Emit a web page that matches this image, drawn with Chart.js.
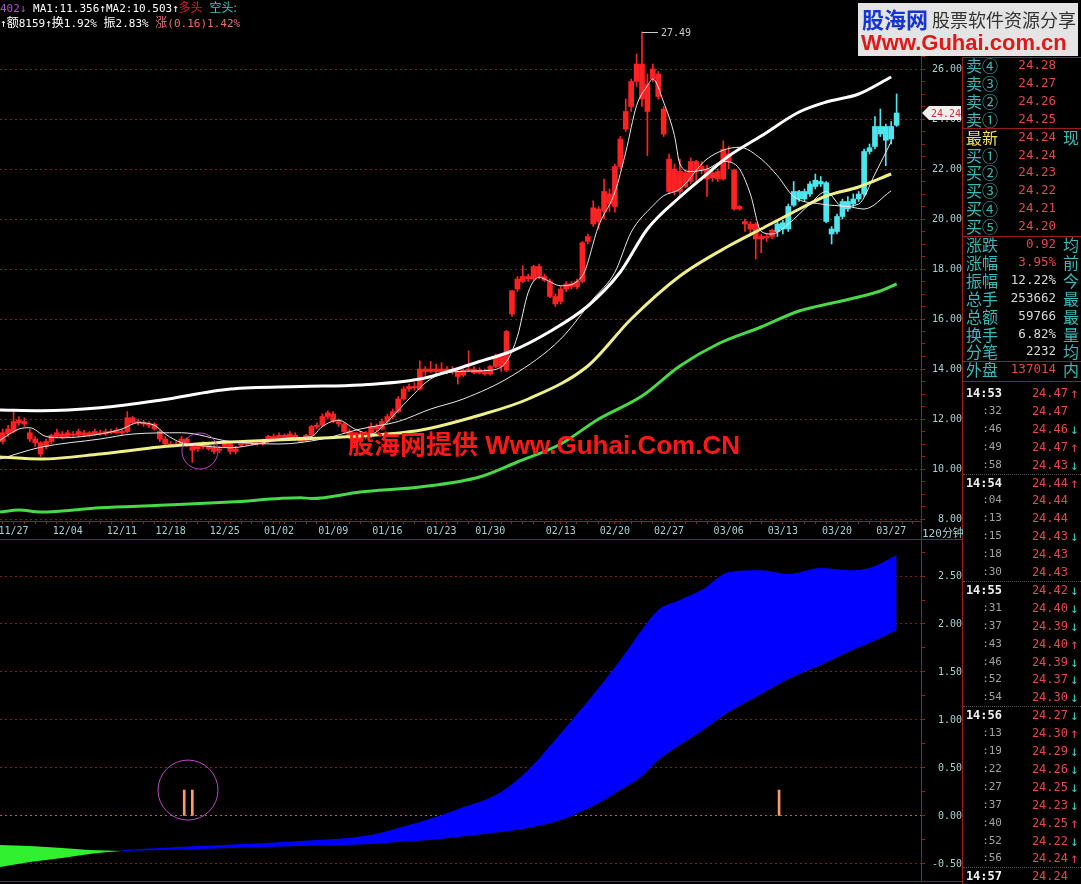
<!DOCTYPE html>
<html>
<head>
<meta charset="utf-8">
<script src="https://cdn.jsdelivr.net/npm/chart.js@4.4.1/dist/chart.umd.min.js"></script>
<style>
  body { margin: 0; background: #000; width: 1081px; height: 884px; overflow: hidden; position: relative; font-family: "DejaVu Sans Mono", monospace; }
  canvas { position: absolute; left: 0; }
  #main { top: 0; }
  #sub { top: 541px; }
  .abs { position: absolute; white-space: nowrap; }
  .hl { position: absolute; height: 0; border-top: 1px solid #9a1c1c; }
  .vl { position: absolute; width: 0; border-left: 1px solid #9a1c1c; }
  .cjk { font-family: "Noto Sans CJK SC", sans-serif; }
</style>
</head>
<body>
<canvas id="main" width="962" height="541"></canvas>
<canvas id="sub" width="962" height="343"></canvas>

<div class="hl" style="left:0;top:539px;width:962px"></div>
<div class="vl" style="left:921px;top:521px;height:24px"></div>
<div class="vl" style="left:962px;top:57px;height:827px"></div>
<div class="hl" style="left:0;top:881px;width:962px"></div>
<div class="abs" style="left:922px;top:524px;font-size:11px;color:#a8d0d0">120<span class="cjk">分钟</span></div>

<!-- header -->
<div class="abs" style="left:0;top:0;font-size:11px;line-height:13px;color:#fff">
  <span style="color:#b050c8">402↓</span> MA1:11.356↑MA2:10.503↑<span class="cjk" style="color:#e02020;font-size:12px">多头</span> <span class="cjk" style="color:#40c8c8;font-size:12px">空头:</span><br>
  ↑<span class="cjk" style="font-size:12px">额</span>8159↑<span class="cjk" style="font-size:12px">换</span>1.92% <span class="cjk" style="font-size:12px">振</span>2.83% <span style="color:#e87070"><span class="cjk" style="font-size:12px">涨</span>(0.16)1.42%</span>
</div>

<!-- watermark -->
<div class="abs" style="left:348px;top:428px;font:bold 26px 'Liberation Sans',sans-serif;line-height:30px;color:#ff1818"><span class="cjk" style="font-size:26px">股海网提供</span> Www.Guhai.Com.CN</div>

<!-- logo -->
<div class="abs" style="left:858px;top:3px;width:220px;height:53px;background:#e4e4e4">
  <span class="abs cjk" style="left:4px;top:3px;font-size:22px;font-weight:bold;line-height:24px;color:#1535d0">股海网</span>
  <span class="abs cjk" style="left:74px;top:6px;font-size:18px;line-height:20px;color:#333">股票软件资源分享</span>
  <span class="abs" style="left:3px;top:28px;font:bold 22px 'Liberation Sans',sans-serif;line-height:24px;color:#e01818">Www.Guhai.com.cn</span>
</div>

<div id="rp"></div>

<script>
// ---- price bars (120 min), [open, high, low, close] ----
const ohlc = [
  [11.1,11.6,11.0,11.45],[11.4,11.75,11.3,11.6],[11.5,12.33,11.45,11.9],[11.85,12.1,11.75,11.95],[11.9,12.05,11.7,11.8],
  [11.45,11.6,11.1,11.2],[11.2,11.3,10.9,11.05],[11.05,11.1,10.5,10.6],[10.9,11.2,10.8,11.1],[11.1,11.4,11.0,11.35],
  [11.3,11.6,11.25,11.45],[11.4,11.5,11.2,11.3],[11.3,11.55,11.25,11.45],[11.4,11.5,11.3,11.35],[11.35,11.6,11.3,11.5],
  [11.45,11.55,11.3,11.35],[11.35,11.5,11.3,11.45],[11.4,11.6,11.35,11.5],[11.45,11.55,11.35,11.4],[11.4,11.6,11.35,11.5],
  [11.5,11.6,11.4,11.45],[11.45,11.65,11.4,11.55],[11.5,11.6,11.35,11.45],[11.5,12.3,11.45,12.05],[12.05,12.1,11.8,11.85],
  [11.85,12.0,11.75,11.9],[11.85,11.95,11.7,11.8],[11.8,11.9,11.65,11.75],[11.8,11.85,11.55,11.6],[11.5,11.55,11.1,11.2],
  [11.2,11.3,10.95,11.0],[11.0,11.1,10.9,10.95],[10.95,11.1,10.9,11.0],[11.0,11.3,10.95,11.2],[11.2,11.25,10.9,11.0],
  [10.9,10.95,10.27,10.75],[10.8,11.0,10.7,10.9],[10.9,11.1,10.8,11.0],[10.95,11.05,10.75,10.8],[10.85,10.95,10.6,10.7],
  [10.75,10.9,10.65,10.8],[10.9,11.1,10.85,11.0],[11.0,11.05,10.6,10.7],[10.7,10.9,10.6,10.8],[10.95,11.1,10.9,11.05],
  [11.05,11.15,10.95,11.0],[11.0,11.1,10.95,11.05],[11.05,11.15,10.95,11.0],[11.0,11.2,10.95,11.1],[11.1,11.35,11.05,11.3],
  [11.3,11.4,11.1,11.2],[11.2,11.45,11.15,11.35],[11.35,11.4,11.2,11.25],[11.25,11.5,11.2,11.4],[11.35,11.45,11.15,11.2],
  [11.2,11.25,11.05,11.1],[11.15,11.4,11.1,11.35],[11.35,11.75,11.3,11.7],[11.7,11.85,11.6,11.75],[11.75,12.2,11.7,12.1],
  [12.1,12.33,12.0,12.25],[12.2,12.3,11.85,11.9],[11.9,12.0,11.7,11.8],[11.8,11.85,11.45,11.5],[11.5,11.6,11.2,11.3],
  [11.3,11.4,10.95,11.05],[11.1,11.5,11.0,11.4],[11.4,11.5,11.2,11.3],[11.3,11.85,11.25,11.7],[11.7,11.8,11.5,11.6],
  [11.6,12.0,11.55,11.9],[11.9,12.2,11.8,12.1],[12.1,12.4,12.0,12.3],[12.3,12.9,12.25,12.8],[12.8,13.3,12.75,13.2],
  [13.2,13.4,13.1,13.3],[13.3,13.45,13.15,13.25],[13.2,14.33,13.15,14.0],[14.0,14.1,13.75,13.9],[13.9,14.3,13.85,14.0],
  [14.0,14.2,13.8,13.9],[13.9,14.25,13.85,14.0],[14.0,14.1,13.8,13.9],[13.9,14.1,13.8,13.95],[13.9,13.95,13.4,13.7],
  [13.75,14.0,13.7,13.95],[13.95,14.73,13.9,14.0],[14.0,14.1,13.8,13.85],[13.85,14.05,13.8,13.95],[13.9,14.0,13.75,13.8],
  [13.8,14.15,13.75,14.1],[14.1,14.6,14.05,14.5],[14.5,14.6,13.9,14.1],[13.95,15.55,13.9,15.5],[16.2,17.15,16.1,17.13],
  [17.2,17.7,17.1,17.6],[17.5,18.13,17.45,17.7],[17.7,17.8,17.5,17.6],[17.6,18.15,17.55,18.1],[18.1,18.2,17.6,17.7],
  [17.7,17.8,17.5,17.55],[17.5,17.6,16.85,16.9],[16.9,17.0,16.5,16.6],[16.7,17.3,16.6,17.2],[17.2,17.5,17.1,17.4],
  [17.4,17.5,17.2,17.3],[17.3,17.6,17.2,17.5],[17.5,19.1,17.45,19.05],[19.1,19.4,19.0,19.3],[19.8,20.73,19.7,20.45],
  [20.4,20.5,19.6,19.9],[20.3,21.6,20.0,21.1],[21.0,21.2,20.3,20.6],[20.5,22.2,20.27,22.1],[22.1,23.3,22.0,23.2],
  [23.6,24.8,23.5,24.3],[24.5,25.6,24.3,25.5],[25.5,26.6,25.3,26.2],[26.2,27.49,24.5,24.8],[25.4,25.8,22.53,24.3],
  [25.6,26.2,25.5,26.0],[25.8,25.9,24.8,24.9],[24.4,24.5,23.3,23.4],[22.4,22.6,21.0,21.1],[22.0,22.2,20.95,21.1],
  [21.1,22.4,20.95,21.9],[21.3,21.95,21.25,21.85],[21.5,22.45,21.4,22.3],[22.3,22.35,21.5,21.95],[21.95,22.3,21.8,22.1],
  [22.0,22.15,20.9,21.6],[21.85,22.1,21.5,21.65],[21.6,22.0,21.5,21.9],[21.6,23.13,21.55,22.8],[22.6,22.9,22.0,22.3],
  [21.95,22.0,20.35,20.4],[20.5,20.55,20.35,20.4],[19.9,20.0,19.5,19.8],[19.8,19.9,19.4,19.6],[19.8,19.85,18.4,19.2],
  [19.2,19.4,18.65,19.3],[19.3,19.4,19.1,19.25],[19.3,19.6,19.2,19.55],[19.5,19.9,19.3,19.8],[19.6,19.95,19.4,19.85],
  [19.6,20.6,19.5,20.5],[20.55,21.5,20.5,21.1],[21.1,21.15,20.7,20.8],[20.8,21.2,20.7,21.1],[21.0,21.5,20.9,21.4],
  [21.3,21.8,21.2,21.55],[21.5,21.7,21.3,21.4],[21.45,21.5,19.85,19.9],[19.6,19.7,19.0,19.4],[19.5,20.2,19.4,20.1],
  [20.1,20.8,20.0,20.7],[20.4,20.9,20.3,20.7],[20.6,21.0,20.5,20.8],[20.8,21.1,20.7,21.0],[21.0,22.8,20.9,22.7],
  [22.7,23.0,22.6,22.85],[22.9,24.1,22.8,23.7],[23.7,24.4,23.3,23.4],[23.7,23.8,22.13,23.15],[23.2,23.9,23.0,23.7],
  [23.75,25.0,23.7,24.24]
];
const firstCyan = 143;

// moving-average style lines: [bar index, value]
const maFast = [[-0.5,11.15],[3,11.6],[5,11.65],[8,11.3],[11,11.25],[18,11.4],[22,11.6],[25,11.85],[28,11.75],[30,11.4],[33,11.05],[36,10.95],[42,10.85],[47,11.0],[53,11.25],[57,11.3],[59,11.7],[62,11.95],[65,11.6],[68,11.4],[71,11.9],[75,12.8],[79,13.6],[84,13.9],[90,13.95],[93,14.3],[95,15.3],[97,17.07],[99,17.67],[100,17.6],[103,17.33],[107,17.73],[110,19.73],[113,21.07],[115,22.67],[117,24.53],[119,25.33],[120,25.6],[122,24.67],[124,23.33],[125,22.2],[127,21.9],[130,22.0],[133,22.3],[136,22.0],[138,21.0],[140,19.5],[142,19.4],[145,19.8],[149,20.6],[152,21.1],[155,20.5],[158,20.6],[161,21.8],[164,23.1]];
const maSlow = [[-0.5,10.4],[7,10.87],[18,11.2],[24,11.4],[33,11.45],[42,11.1],[51,11.0],[59,11.2],[66,11.6],[73,11.9],[79,12.4],[85,12.8],[94,13.73],[103,15.2],[109,16.8],[113,17.87],[116,19.47],[120,20.53],[122,20.93],[125,21.2],[130,22.4],[136,22.87],[140,22.4],[143,21.73],[146,20.9],[151,20.6],[156,20.5],[159,20.4],[164,21.13]];
const bandUpper = [[-0.5,12.36],[7,12.33],[18,12.45],[29,12.75],[42,13.2],[55,13.3],[66,13.36],[77,13.6],[83,13.95],[88,14.3],[94,14.72],[101,15.5],[108,16.52],[114,17.88],[119,19.6],[125,20.88],[130,21.8],[134,22.52],[140,23.32],[147,24.28],[152,24.68],[158,25.0],[164,25.68]];
const bandMid = [[-0.5,10.48],[7,10.4],[18,10.6],[29,10.88],[42,11.08],[55,11.2],[66,11.32],[77,11.55],[88,12.15],[97,12.8],[108,14.12],[116,16.0],[125,17.72],[134,18.92],[140,19.6],[146,20.28],[152,20.92],[158,21.28],[164,21.8]];
const bandLower = [[-0.5,8.28],[3,8.36],[7,8.28],[18,8.45],[29,8.55],[42,8.68],[55,8.85],[57,8.82],[66,9.08],[77,9.28],[88,9.68],[95,10.28],[103,11.0],[110,12.0],[118,12.92],[125,14.12],[132,15.0],[140,15.68],[147,16.32],[154,16.68],[162,17.12],[165,17.4]];

// x axis dates (bar index where each label sits)
const dateIdx = [2,12,22,31,41,51,61,71,81,90,103,113,123,134,144,154,164];
const dateText = ['11/27','12/04','12/11','12/18','12/25','01/02','01/09','01/16','01/23','01/30','02/13','02/20','02/27','03/06','03/13','03/20','03/27'];

// lower indicator
const greenIdx = [-0.5,5,11,16,22];
const greenTop = [-0.302,-0.313,-0.333,-0.354,-0.365];
const greenBottom = [-0.531,-0.479,-0.438,-0.396,-0.365];
const blueIdx = [22,36,55,68,73,79,84,92,97,103,110,114,118,121,125,129,134,140,145,151,156,160,165];
const blueTop = [-0.354,-0.313,-0.26,-0.198,-0.125,-0.03,0.07,0.25,0.48,0.86,1.333,1.625,1.938,2.146,2.25,2.354,2.54,2.56,2.52,2.583,2.56,2.583,2.72];
const blueBottom = [-0.365,-0.344,-0.313,-0.292,-0.271,-0.25,-0.219,-0.167,-0.125,-0.042,0.135,0.271,0.417,0.583,0.74,0.885,1.083,1.271,1.427,1.573,1.708,1.802,1.938];
const stickIdx = [33.5,35,143.3];
const stickTop = [0.27,0.27,0.27];

// hand-drawn circles on the screenshot
const mainCircle = {x: 36.4, y: 10.72, r: 18};
const subCircle = {x: 34.2, y: 0.27, r: 30};

// quote panel
const quoteLabels = ['卖④','卖③','卖②','卖①','最新','买①','买②','买③','买④','买⑤','涨跌','涨幅','振幅','总手','总额','换手','分笔','外盘'];
const quoteValues = ['24.28','24.27','24.26','24.25','24.24','24.24','24.23','24.22','24.21','24.20','0.92','3.95%','12.22%','253662','59766','6.82%','2232','137014'];
const quoteRed = [1,1,1,1,1,1,1,1,1,1,1,1,0,0,0,0,0,1];
const quoteTail = ['','','','','现','','','','','','均','前','今','最','最','量','均','内'];
const tickTimes = ['14:53',':32',':46',':49',':58','14:54',':04',':13',':15',':18',':30','14:55',':31',':37',':43',':46',':52',':54','14:56',':13',':19',':22',':27',':37',':40',':52',':56','14:57'];
const tickPrices = ['24.47','24.47','24.46','24.47','24.43','24.44','24.44','24.44','24.43','24.43','24.43','24.42','24.40','24.39','24.40','24.39','24.37','24.30','24.27','24.30','24.29','24.26','24.25','24.23','24.25','24.22','24.24','24.24'];
const tickDir = ['u','','d','u','d','u','','','d','','','d','d','d','u','d','d','d','d','u','d','d','d','d','u','d','u',''];

const RED = '#ff2222', CYAN = '#4ee6ee', AXIS = '#9a1c1c', GRID = '#7a2020', LABEL = '#a8d0d0';
const monoFont = {family: 'DejaVu Sans Mono', size: 10};
const pts = arr => arr.map(p => ({x: p[0], y: p[1]}));
const zip = (xs, ys) => xs.map((x, i) => ({x, y: ys[i]}));
const candleColor = c => c.dataIndex >= firstCyan ? CYAN : RED;
const lineDs = (data, color, width) => ({
  type: 'line', data: pts(data), borderColor: color, borderWidth: width,
  pointRadius: 0, cubicInterpolationMode: 'monotone', fill: false
});

let dayTicks = [];
for (let k = 0; k <= 168; k += 2) dayTicks.push(k);
dayTicks = [...new Set(dayTicks.concat(dateIdx))].sort((a, b) => a - b);

const isStep = (v, s) => Math.abs(v / s - Math.round(v / s)) < 1e-6;

const markPlugin = {
  id: 'marks',
  afterDraw(chart) {
    const {ctx, scales: {x, y}} = chart;
    let peak = 0;
    ohlc.forEach((b, i) => { if (b[1] > ohlc[peak][1]) peak = i; });
    const px = Math.round(x.getPixelForValue(peak)), py = Math.round(y.getPixelForValue(ohlc[peak][1]));
    ctx.save();
    ctx.strokeStyle = '#c8c8c8';
    ctx.lineWidth = 1;
    ctx.beginPath(); ctx.moveTo(px, py + 0.5); ctx.lineTo(px + 16, py + 0.5); ctx.stroke();
    ctx.fillStyle = '#c8c8c8';
    ctx.font = '10px "DejaVu Sans Mono"';
    ctx.textBaseline = 'middle';
    ctx.fillText(ohlc[peak][1].toFixed(2), px + 19, py + 1);

    const last = ohlc[ohlc.length - 1][3];
    const ty = Math.round(y.getPixelForValue(last));
    const tx = chart.chartArea.right + 1;
    ctx.fillStyle = '#f0f0f0';
    ctx.beginPath();
    ctx.moveTo(tx, ty); ctx.lineTo(tx + 7, ty - 7); ctx.lineTo(tx + 39, ty - 7);
    ctx.lineTo(tx + 39, ty + 7); ctx.lineTo(tx + 7, ty + 7); ctx.closePath(); ctx.fill();
    ctx.fillStyle = '#c83030';
    ctx.textAlign = 'right';
    ctx.fillText(last.toFixed(2), tx + 39, ty + 1);
    ctx.restore();
  }
};

new Chart(document.getElementById('main'), {
  type: 'bar',
  data: {
    datasets: [
      {type: 'bubble', data: [mainCircle], borderColor: '#b848c0', backgroundColor: 'rgba(0,0,0,0)', borderWidth: 1},
      lineDs(maFast, '#e8e8e8', 1),
      lineDs(maSlow, '#e8e8e8', 1),
      lineDs(bandUpper, '#ffffff', 3),
      lineDs(bandMid, '#f0f088', 3),
      lineDs(bandLower, '#48d848', 3),
      {data: ohlc.map((b, i) => ({x: i, y: [b[0], b[3]]})), backgroundColor: candleColor, barThickness: 5, minBarLength: 1, grouped: false},
      {data: ohlc.map((b, i) => ({x: i, y: [b[2], b[1]]})), backgroundColor: candleColor, barThickness: 1, grouped: false}
    ]
  },
  options: {
    responsive: false, animation: false, events: [],
    layout: {autoPadding: false, padding: {top: 30, left: 0, right: 0, bottom: 0}},
    plugins: {legend: {display: false}, tooltip: {enabled: false}},
    scales: {
      x: {
        type: 'linear', min: -0.5, max: 169.5, offset: false,
        afterFit(s) { s.height = 20; s.paddingLeft = 0; s.paddingRight = 0; },
        afterBuildTicks(s) { s.ticks = dayTicks.map(v => ({value: v})); },
        ticks: {
          autoSkip: false, maxRotation: 0, padding: 1, color: LABEL, font: monoFont,
          callback: v => { const k = dateIdx.indexOf(v); return k < 0 ? '' : dateText[k]; }
        },
        grid: {drawOnChartArea: false, offset: false, tickLength: 3, tickColor: AXIS},
        border: {color: AXIS}
      },
      y: {
        position: 'right', min: 7.92, max: 27.56,
        afterFit(s) { s.width = 41; s.paddingTop = 0; s.paddingBottom = 0; },
        ticks: {
          stepSize: 0.5, includeBounds: false, autoSkip: false, padding: 5, crossAlign: 'far',
          color: LABEL, font: monoFont,
          callback: v => isStep(v, 2) ? v.toFixed(2) : ''
        },
        grid: {
          color: c => (c.tick && isStep(c.tick.value, 2)) ? GRID : 'rgba(0,0,0,0)',
          tickColor: AXIS, tickLength: 4
        },
        border: {color: AXIS, dash: [2, 3]}
      }
    }
  },
  plugins: [markPlugin]
});

new Chart(document.getElementById('sub'), {
  type: 'line',
  data: {
    datasets: [
      {type: 'bubble', data: [subCircle], borderColor: '#b848c0', backgroundColor: 'rgba(0,0,0,0)', borderWidth: 1},
      {type: 'bar', data: stickIdx.map((x, i) => ({x, y: [0, stickTop[i]]})), backgroundColor: '#ff9a66', barThickness: 2, grouped: false},
      {data: zip(greenIdx, greenTop), borderWidth: 0, pointRadius: 0, fill: false, cubicInterpolationMode: 'monotone'},
      {data: zip(greenIdx, greenBottom), borderWidth: 0, pointRadius: 0, fill: '-1', backgroundColor: '#30f030', cubicInterpolationMode: 'monotone'},
      {data: zip(blueIdx, blueTop), borderWidth: 0, pointRadius: 0, fill: false, cubicInterpolationMode: 'monotone'},
      {data: zip(blueIdx, blueBottom), borderWidth: 0, pointRadius: 0, fill: '-1', backgroundColor: '#0000ff', cubicInterpolationMode: 'monotone'}
    ]
  },
  options: {
    responsive: false, animation: false, events: [],
    layout: {autoPadding: false, padding: {top: 4, bottom: 4, left: 0, right: 0}},
    plugins: {legend: {display: false}, tooltip: {enabled: false}},
    scales: {
      x: {type: 'linear', min: -0.5, max: 169.5, offset: false, display: false},
      y: {
        position: 'right', min: -0.667, max: 2.823,
        afterFit(s) { s.width = 41; s.paddingTop = 0; s.paddingBottom = 0; },
        ticks: {
          stepSize: 0.25, includeBounds: false, autoSkip: false, padding: 5, crossAlign: 'far',
          color: LABEL, font: monoFont,
          callback: v => isStep(v, 0.5) ? v.toFixed(2) : ''
        },
        grid: {
          color: c => {
            const v = c.tick ? c.tick.value : 1;
            if (Math.abs(v) < 1e-6) return '#b06a30';
            return isStep(v, 0.5) ? GRID : 'rgba(0,0,0,0)';
          },
          tickColor: AXIS, tickLength: 4
        },
        border: {color: AXIS, dash: [2, 3]}
      }
    }
  }
});

// quote panel text
const rp = document.getElementById('rp');
let html = '';
const hline = (y, style) => `<div class="hl" style="left:962px;top:${y}px;width:119px;${style || ''}"></div>`;
html += hline(57) + hline(128) + hline(236) + hline(361) + hline(381);
quoteLabels.forEach((lab, i) => {
  const y = 65 + i * 17.9;
  const lc = i === 4 ? '#f0e050' : '#3cb8b8';
  const vc = quoteRed[i] ? '#e04a4a' : '#d8d8d8';
  html += `<div class="abs cjk" style="left:966px;top:${y - 10}px;font-size:16px;line-height:20px;color:${lc}">${lab}</div>`;
  html += `<div class="abs" style="left:996px;width:60px;text-align:right;top:${y - 8}px;font-size:12.5px;line-height:16px;color:${vc}">${quoteValues[i]}</div>`;
  if (quoteTail[i]) html += `<div class="abs cjk" style="left:1063px;top:${y - 10}px;font-size:16px;line-height:20px;color:#3cb8b8">${quoteTail[i]}</div>`;
});
tickTimes.forEach((t, j) => {
  const y = 393 + j * 17.9;
  const major = t.length > 3;
  if (major && j > 0) html += `<div class="abs" style="left:963px;top:${Math.round(y - 9)}px;width:118px;border-top:1px dotted #555"></div>`;
  html += `<div class="abs" style="left:950px;width:52px;text-align:right;top:${y - 8}px;line-height:16px;${major ? 'font-size:12px;font-weight:bold;color:#f0f0f0' : 'font-size:11px;color:#a0a0a0'}">${t}</div>`;
  html += `<div class="abs" style="left:1018px;width:50px;text-align:right;top:${y - 8}px;font-size:12px;line-height:16px;color:#e04a4a">${tickPrices[j]}</div>`;
  if (tickDir[j]) html += `<div class="abs" style="left:1070px;top:${y - 9}px;font-size:14px;line-height:18px;color:${tickDir[j] === 'u' ? '#e04a4a' : '#40c8c8'}">${tickDir[j] === 'u' ? '↑' : '↓'}</div>`;
});
rp.innerHTML = html;
</script>
</body>
</html>
